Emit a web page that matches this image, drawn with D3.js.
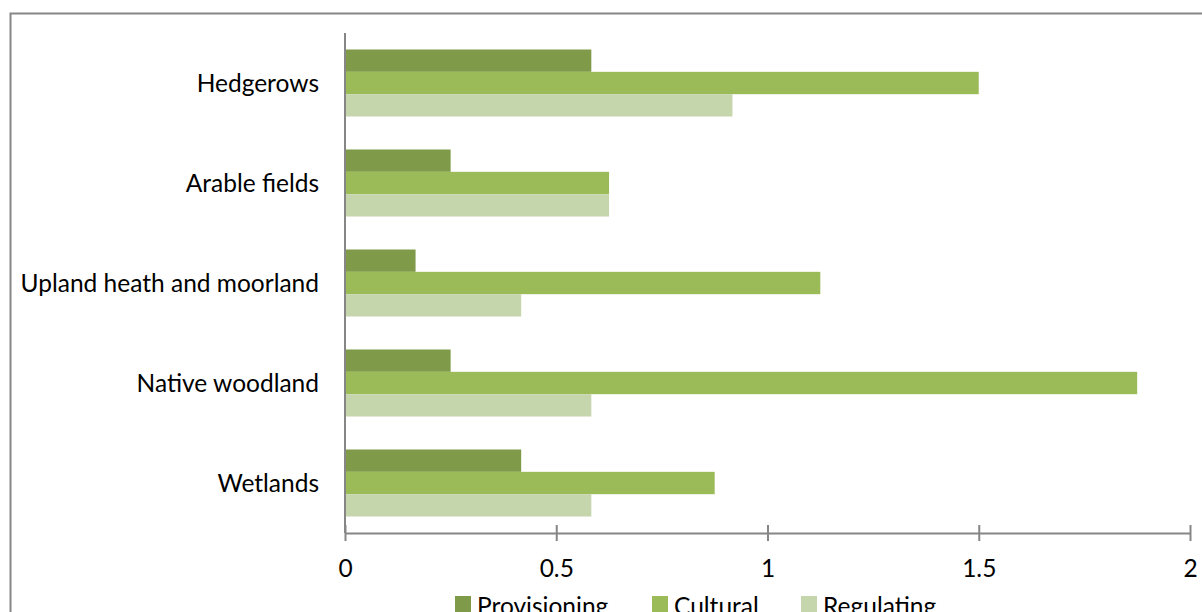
<!DOCTYPE html>
<html>
<head>
<meta charset="utf-8">
<script src="https://cdn.jsdelivr.net/npm/d3@7"></script>
<style>
  body { margin: 0; background: #fff; }
  svg text { font-family: Lato, "Open Sans", sans-serif; fill: #000; }
</style>
</head>
<body>
<svg width="1202" height="612"></svg>
<script>
// chart data
const categories = ["Hedgerows", "Arable fields", "Upland heath and moorland", "Native woodland", "Wetlands"];
const seriesNames = ["Provisioning", "Cultural", "Regulating"];
const provisioning = [0.583, 0.25, 0.167, 0.25, 0.417];
const cultural = [1.5, 0.625, 1.125, 1.875, 0.875];
const regulating = [0.917, 0.625, 0.417, 0.583, 0.583];
const xTicks = [0, 0.5, 1, 1.5, 2];
const colors = ["#7f9a48", "#9bbb59", "#c6d6ac"];

function drawChart() {
    const svg = d3.select("svg");
    const seriesValues = [provisioning, cultural, regulating];
    const fontSize = 24.5;

    // outer chart border (runs off the right and bottom edge)
    svg.append("rect")
        .attr("x", 10.5).attr("y", 13.5)
        .attr("width", 1200).attr("height", 620)
        .attr("fill", "none")
        .attr("stroke", "#868686")
        .attr("stroke-width", 2);

    const left = 345, right = 1190, top = 33, bottom = 533;

    const x = d3.scaleLinear().domain([0, 2]).range([left, right]);
    const y = d3.scaleBand().domain(categories).range([top, bottom]).paddingInner(0.33).paddingOuter(0.165);
    const yInner = d3.scaleBand().domain(seriesNames).range([0, y.bandwidth()]);

    // bars
    const rows = categories.map((c, i) => ({ cat: c, vals: seriesNames.map((s, j) => ({ s, j, v: seriesValues[j][i] })) }));
    const g = svg.append("g").selectAll("g")
        .data(rows)
        .enter().append("g")
        .attr("transform", d => `translate(0,${y(d.cat)})`);

    g.selectAll("rect")
        .data(d => d.vals)
        .enter().append("rect")
        .attr("x", x(0))
        .attr("y", d => yInner(d.s))
        .attr("width", d => x(d.v) - x(0))
        .attr("height", yInner.bandwidth())
        .attr("fill", d => colors[d.j]);

    // x axis
    const xAxis = svg.append("g")
        .attr("transform", `translate(0,${bottom})`)
        .call(d3.axisBottom(x).tickValues(xTicks).tickFormat(d3.format("")).tickSizeInner(8).tickSizeOuter(0).tickPadding(0));
    xAxis.select(".domain").attr("stroke", "#868686").attr("stroke-width", 2);
    xAxis.selectAll(".tick line")
        .attr("y1", -8).attr("y2", 8)
        .attr("stroke", "#868686").attr("stroke-width", 2);
    xAxis.selectAll(".tick text")
        .attr("y", 44)
        .attr("dy", 0)
        .attr("font-size", fontSize)
        .style("font-family", "Lato, 'Open Sans', sans-serif");

    // y axis line
    svg.append("line")
        .attr("x1", left).attr("x2", left)
        .attr("y1", top).attr("y2", bottom)
        .attr("stroke", "#868686").attr("stroke-width", 2);

    // category labels
    svg.append("g").selectAll("text")
        .data(categories)
        .enter().append("text")
        .attr("x", 319)
        .attr("y", d => y(d) + y.bandwidth() / 2 + 8.5)
        .attr("text-anchor", "end")
        .attr("font-size", fontSize)
        .text(d => d);

    // legend (cut off by the bottom edge, as in the original)
    const legendX = [455, 652, 801];
    const legend = svg.append("g").selectAll("g")
        .data(seriesNames)
        .enter().append("g")
        .attr("transform", (d, i) => `translate(${legendX[i]},596)`);
    legend.append("rect")
        .attr("width", 16).attr("height", 16)
        .attr("fill", (d, i) => colors[i]);
    legend.append("text")
        .attr("x", 22).attr("y", 18.5)
        .attr("font-size", fontSize)
        .text(d => d);
}

document.addEventListener("DOMContentLoaded", drawChart);
</script>
</body>
</html>
